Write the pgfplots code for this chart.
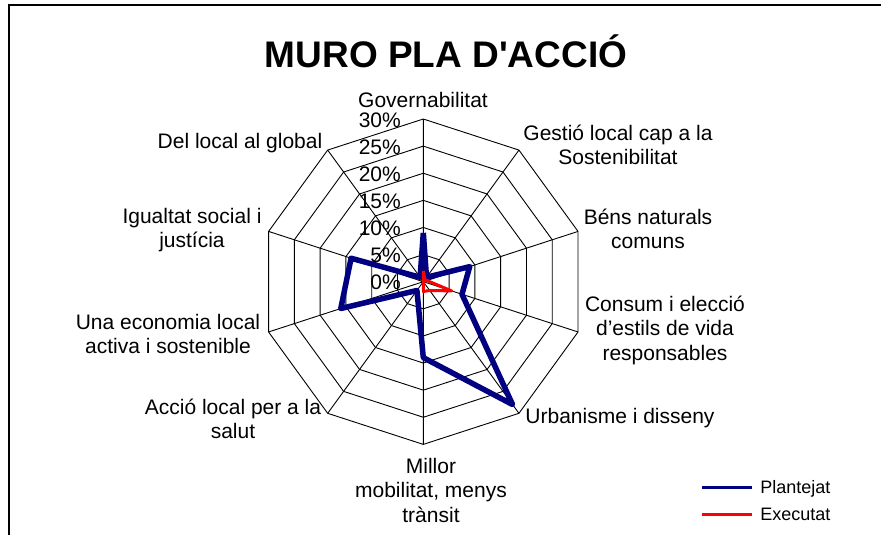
\documentclass[border=0pt]{standalone}
\usepackage{pgfplots}
\pgfplotsset{compat=1.18}
\usepackage{fontspec}
\setmainfont{Liberation Sans}
\definecolor{plan}{RGB}{0,0,128}
\definecolor{exec}{RGB}{255,0,0}
\begin{document}
\begin{tikzpicture}[x=1pt,y=1pt]
\path[use as bounding box] (0,0) rectangle (881,535);
\draw[line width=2pt] (8.5,0) -- (8.5,530) -- (881,530);
\node[font=\bfseries\fontsize{37}{40}\selectfont, anchor=base] at (446,467) {MURO PLA D\textquotesingle ACCIÓ};
\begin{axis}[
  at={(423.3pt,253.3pt)}, anchor=center,
  x=5.423pt, y=5.423pt,
  xmin=-40, xmax=40, ymin=-40, ymax=40,
  hide axis, clip=false,
  data cs=polar,
  legend style={at={(1.138,0.045)}, anchor=north west, draw=none, fill=none,
    font=\fontsize{18}{21}\selectfont, inner sep=0pt,
    row sep=11pt,
    nodes={inner sep=1pt, anchor=west}},
  legend cell align=left,
  legend image code/.code={\draw[#1] (0pt,0pt) -- (50pt,0pt);},
  /tikz/every odd column/.append style={column sep=6pt},
]
% grid rings
\pgfplotsinvokeforeach{5,10,15,20,25,30}{
\addplot[black, line width=0.9pt, forget plot] coordinates {(90,#1) (54,#1) (18,#1) (-18,#1) (-54,#1) (-90,#1) (-126,#1) (-162,#1) (162,#1) (126,#1) (90,#1)};
}
% spokes
\addplot[black, line width=0.9pt, forget plot] coordinates {(90,30) (90,0) (54,30) (54,0) (18,30) (18,0) (-18,30) (-18,0) (-54,30) (-54,0) (-90,30) (-90,0) (-126,30) (-126,0) (-162,30) (-162,0) (162,30) (162,0) (126,30) (126,0)};
% Plantejat
\addplot[plan, line width=5.5pt, line join=round, legend image post style={line width=3pt}] coordinates {
(90,9) (54,1) (18,9) (-18,7.5) (-54,28) (-90,14) (-126,2) (-162,16) (162,14) (126,1) (90,9)};
\addlegendentry{Plantejat}
% Executat
\addplot[exec, line width=3pt, line join=round, legend image post style={line width=3pt}] coordinates {
(90,2) (54,0.5) (18,0.7) (-18,5.5) (-54,2) (-90,1.8) (-126,0) (-162,0) (162,0) (126,0) (90,2)};
\addlegendentry{Executat}
\end{axis}
% radial tick labels
\begin{scope}[every node/.style={anchor=east, font=\fontsize{21}{24}\selectfont, inner sep=0pt}]
\node at (401,252.3) {0\%};
\node at (401,279.4) {5\%};
\node at (401,306.5) {10\%};
\node at (401,333.7) {15\%};
\node at (401,360.8) {20\%};
\node at (401,387.9) {25\%};
\node at (401,415.0) {30\%};
\end{scope}
% category labels
\begin{scope}[every node/.style={align=center, font=\fontsize{21}{24.5}\selectfont, inner sep=0pt}]
\node at (423,435) {Governabilitat};
\node at (618,390) {Gestió local cap a la\\Sostenibilitat};
\node at (648,306) {Béns naturals\\comuns};
\node at (665,205) {Consum i elecció\\d’estils de vida\\responsables};
\node at (620,117) {Urbanisme i disseny};
\node at (431,45) {Millor\\mobilitat, menys\\trànsit};
\node at (233,116) {Acció local per a la\\salut};
\node at (168,201) {Una economia local\\activa i sostenible};
\node at (192,305) {Igualtat social i\\justícia};
\node at (240,392) {Del local al global};
\end{scope}
\end{tikzpicture}
\end{document}
